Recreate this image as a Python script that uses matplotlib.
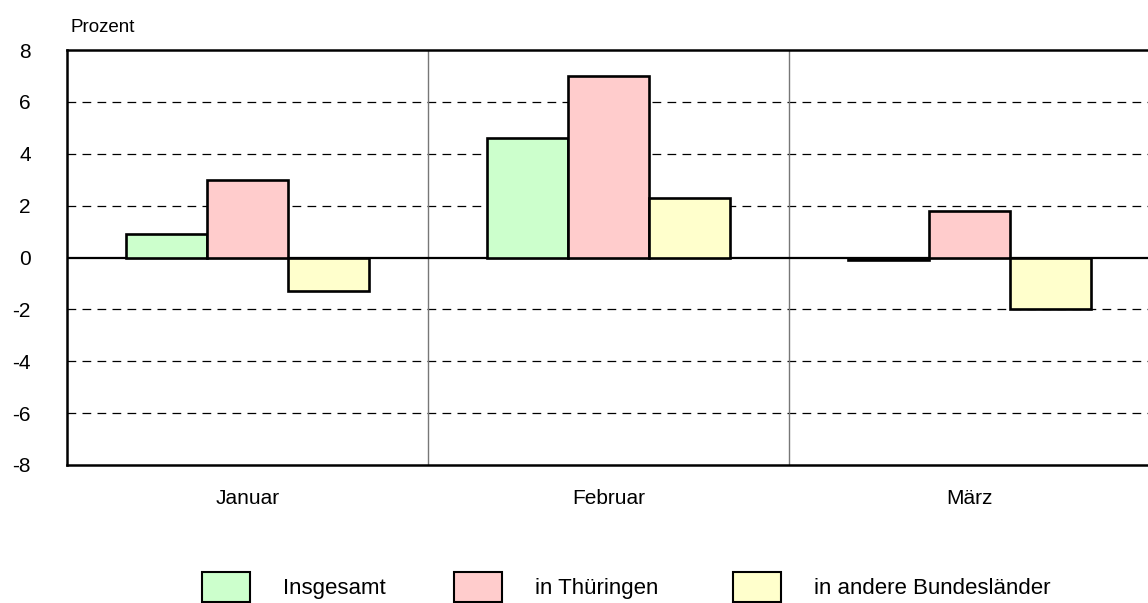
import numpy as np
import matplotlib.pyplot as plt
from matplotlib.patches import Patch

plt.rcParams['font.family'] = ['Liberation Sans', 'DejaVu Sans']

# data
months = ["Januar", "Februar", "März"]
series_names = ["Insgesamt", "in Thüringen", "in andere Bundesländer"]
insgesamt = [0.9, 4.6, -0.1]
thueringen = [3.0, 7.0, 1.8]
andere = [-1.3, 2.3, -2.0]
colors = ["#ccffcc", "#ffcccc", "#ffffcc"]
yticks = [-8, -6, -4, -2, 0, 2, 4, 6, 8]

W, H = 1148, 603
fig = plt.figure(figsize=(W / 100, H / 100), dpi=100)
ax = fig.add_axes([67 / W, 1 - 465 / H, 1083 / W, 415 / H])

x = np.arange(len(months))
bw = 0.225
for i, vals in enumerate([insgesamt, thueringen, andere]):
    ax.bar(x + (i - 1) * bw, vals, width=bw, color=colors[i],
           edgecolor="black", linewidth=1.9, zorder=3)

# grid lines
for yv in yticks:
    if yv in (-8, 8):
        continue
    if yv == 0:
        ax.axhline(0, color="black", linewidth=1.6, zorder=2)
    else:
        ax.axhline(yv, color="black", linewidth=0.9, dashes=(7, 5), zorder=1)
for sep in [0.5, 1.5]:
    ax.axvline(sep, color="#777777", linewidth=1.0, zorder=1)

ax.set_xlim(-0.5, 2.5)
ax.set_ylim(-8, 8)
ax.set_yticks(yticks)
ax.set_yticklabels([str(v) for v in yticks], fontsize=15)
ax.set_xticks(x)
ax.set_xticklabels(months, fontsize=15)
ax.tick_params(axis="both", length=0)
ax.tick_params(axis="y", pad=26)
ax.tick_params(axis="x", pad=17)
for s in ["left", "bottom", "top"]:
    ax.spines[s].set_linewidth(1.8)
ax.spines["right"].set_visible(False)

fig.text(70 / W, 1 - 27 / H, "Prozent", fontsize=13.5, ha="left", va="center")

# legend entries, one per series
leg_x = [202, 454, 733]
for name, c, lx in zip(series_names, colors, leg_x):
    h = Patch(facecolor=c, edgecolor="black", linewidth=1.5)
    fig.legend([h], [name], loc="center left", bbox_to_anchor=(lx / W, 1 - 587 / H),
               frameon=False, fontsize=16, handlelength=2.15, handleheight=1.75,
               handletextpad=1.5, borderpad=0, borderaxespad=0)

fig.savefig("out.png", dpi=100)
